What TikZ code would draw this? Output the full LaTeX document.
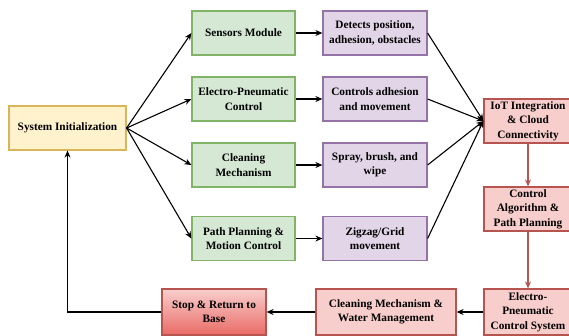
\documentclass[tikz,border=0pt]{standalone}
\usepackage{fontspec}
\setmainfont{Liberation Serif}
\usetikzlibrary{arrows.meta}
\definecolor{yfill}{HTML}{FFF2CC}\definecolor{ydraw}{HTML}{D6B656}
\definecolor{gfill}{HTML}{D5E8D4}\definecolor{gdraw}{HTML}{82B366}
\definecolor{pfill}{HTML}{E1D5E7}\definecolor{pdraw}{HTML}{9673A6}
\definecolor{rfill}{HTML}{F8CECC}\definecolor{rdraw}{HTML}{B85450}
\definecolor{rdark}{HTML}{EA6B66}
\begin{document}
\begin{tikzpicture}[x=1pt,y=-1pt,
  box/.style={draw, line width=1.2pt, align=center, inner sep=0pt,
    font=\bfseries\fontsize{11.3}{14.5}\selectfont},
  ybox/.style={box, fill=yfill, draw=ydraw, minimum width=117pt, minimum height=44pt},
  gbox/.style={box, fill=gfill, draw=gdraw, minimum width=103pt, minimum height=44pt},
  pbox/.style={box, fill=pfill, draw=pdraw, minimum width=104pt, minimum height=44pt},
  rbox/.style={box, fill=rfill, draw=rdraw, minimum height=46pt},
  arr/.style={-{Stealth[length=7pt,width=6pt]}, line width=1.1pt, black},
  rarr/.style={-{Stealth[length=7pt,width=6pt]}, line width=1.1pt, rdraw},
]
\useasboundingbox (0,0) rectangle (569,335);
\clip (0,0) rectangle (569,335);
\node[ybox] (init) at (67.5,128) {System Initialization};
\node[gbox] (sens) at (243.5,33) {Sensors Module};
\node[gbox] (ep) at (243.5,99) {Electro-Pneumatic\\Control};
\node[gbox] (clean) at (243.5,165) {Cleaning\\Mechanism};
\node[gbox] (path) at (243.5,238.5) {Path Planning \&\\Motion Control};
\node[pbox] (det) at (375,33) {Detects position,\\adhesion, obstacles};
\node[pbox] (ctl) at (375,99) {Controls adhesion\\and movement};
\node[pbox] (spr) at (375,165) {Spray, brush, and\\wipe};
\node[pbox] (zig) at (375,238.5) {Zigzag/Grid\\movement};
\node[rbox, minimum width=88pt, minimum height=44pt] (iot) at (528,121) {IoT Integration\\\& Cloud\\Connectivity};
\node[rbox, minimum width=88pt, minimum height=44pt] (alg) at (528,209) {Control\\Algorithm \&\\Path Planning};
\node[rbox, minimum width=88pt] (eps) at (528,312) {Electro-\\Pneumatic\\Control System};
\node[rbox, minimum width=140pt] (cmw) at (386,312) {Cleaning Mechanism \&\\Water Management};
\node[box, draw=rdraw, top color=rfill, bottom color=rdark, minimum width=104pt, minimum height=46pt] (stop) at (214,312) {Stop \& Return to\\Base};
\foreach \t in {sens,ep,clean,path} \draw[arr] (init.east) -- (\t.west);
\draw[arr] (sens) -- (det);
\draw[arr] (ep) -- (ctl);
\draw[arr] (clean) -- (spr);
\draw[arr] (path) -- (zig);
\foreach \t in {det,ctl,spr,zig} \draw[arr] (\t.east) -- (iot.west);
\draw[rarr] (iot) -- (alg);
\draw[rarr] (alg) -- (eps);
\draw[arr] (eps) -- (cmw);
\draw[arr] (cmw) -- (stop);
\draw[arr] (stop.west) -| (init.south);
\end{tikzpicture}
\end{document}
